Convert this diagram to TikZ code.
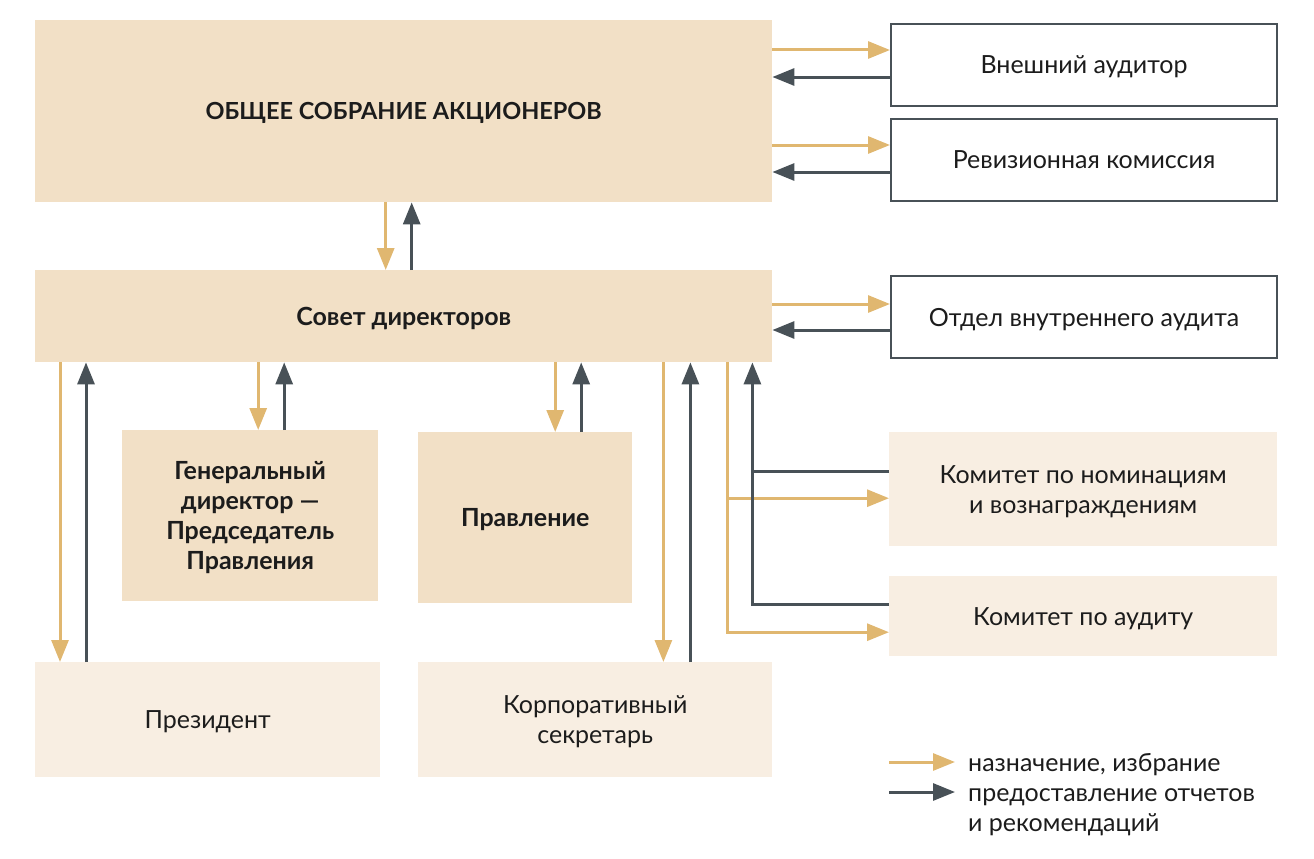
\documentclass[tikz,border=0pt]{standalone}
\usepackage{fontspec}
\setmainfont{Lato}
\usetikzlibrary{arrows.meta, positioning}
\definecolor{gold}{HTML}{E0B770}
\definecolor{slate}{HTML}{485157}
\definecolor{sand}{HTML}{F2E0C6}
\definecolor{cream}{HTML}{F8EEE2}
\definecolor{ink}{HTML}{1C1C1C}

\begin{document}
\begin{tikzpicture}[
x=1pt, y=-1pt,
box/.style={rectangle, anchor=north west, inner sep=0pt, align=center, text depth=0pt, text=ink, font=\fontsize{25}{30}\selectfont},
main/.style={box, fill=sand, font=\fontsize{25}{30}\selectfont\bfseries},
side/.style={box, fill=white, draw=slate, line width=2pt},
cmte/.style={box, fill=cream},
legend/.style={inner sep=0pt, align=left, text=ink, font=\fontsize{25}{30}\selectfont},
apt/.style={-{Triangle[length=22pt, width=17pt]}, draw=gold, line width=3pt},
rep/.style={-{Triangle[length=22pt, width=17pt]}, draw=slate, line width=3pt},
repline/.style={draw=slate, line width=3pt}
]
\useasboundingbox (0,0) rectangle (1314,859);

% boxes
\node[main, minimum width=737, minimum height=182, font=\fontsize{23.5}{30}\selectfont\bfseries] (osa) at (35,20) {ОБЩЕЕ СОБРАНИЕ АКЦИОНЕРОВ};
\node[side, minimum width=386, minimum height=82] (ext) at (890,23) {Внешний аудитор};
\node[side, minimum width=386, minimum height=82] (rev) at (890,118) {Ревизионная комиссия};
\node[main, minimum width=737, minimum height=92] (sovet) at (35,270) {Совет директоров};
\node[side, minimum width=386, minimum height=82] (ia) at (890,275) {Отдел внутреннего аудита};
\node[main, minimum width=256, minimum height=171] (gen) at (122,430) {Генеральный\\директор —\\Председатель\\Правления};
\node[main, minimum width=214, minimum height=171] (board) at (418,432) {Правление};
\node[cmte, minimum width=345, minimum height=115] (pres) at (35,662) {Президент};
\node[cmte, minimum width=354, minimum height=115] (sec) at (418,662) {Корпоративный\\секретарь};
\node[cmte, minimum width=388, minimum height=114] (nomk) at (889,432) {Комитет по номинациям\\и вознаграждениям};
\node[cmte, minimum width=388, minimum height=80] (audk) at (889,576) {Комитет по аудиту};

% shareholders and auditors
\draw[apt] ([yshift=15pt]ext.west -| osa.east) -- ([yshift=15pt]ext.west);
\draw[rep] ([yshift=-12pt]ext.west) -- ([yshift=-12pt]ext.west -| osa.east);
\draw[apt] ([yshift=15pt]rev.west -| osa.east) -- ([yshift=15pt]rev.west);
\draw[rep] ([yshift=-12pt]rev.west) -- ([yshift=-12pt]rev.west -| osa.east);
\draw[apt] ([xshift=-18pt]osa.south) -- ([xshift=-18pt]sovet.north);
\draw[rep] ([xshift=8pt]sovet.north) -- ([xshift=8pt]osa.south);
\draw[apt] ([yshift=13pt]ia.west -| sovet.east) -- ([yshift=13pt]ia.west);
\draw[rep] ([yshift=-13pt]ia.west) -- ([yshift=-13pt]ia.west -| sovet.east);

% board and executives
\draw[apt] ([xshift=8pt]gen.north |- sovet.south) -- ([xshift=8pt]gen.north);
\draw[rep] ([xshift=34pt]gen.north) -- ([xshift=34pt]gen.north |- sovet.south);
\draw[apt] ([xshift=30pt]board.north |- sovet.south) -- ([xshift=30pt]board.north);
\draw[rep] ([xshift=56pt]board.north) -- ([xshift=56pt]board.north |- sovet.south);
\draw[apt] ([xshift=25pt]pres.north west |- sovet.south) -- ([xshift=25pt]pres.north west);
\draw[rep] ([xshift=51pt]pres.north west) -- ([xshift=51pt]pres.north west |- sovet.south);
\draw[apt] ([xshift=-109pt]sec.north east |- sovet.south) -- ([xshift=-109pt]sec.north east);
\draw[rep] ([xshift=-82pt]sec.north east) -- ([xshift=-82pt]sec.north east |- sovet.south);

% committees
\coordinate (gtrunk) at ([xshift=-45pt]sovet.south east);
\coordinate (strunk) at ([xshift=-20pt]sovet.south east);
\coordinate (nomin) at ([yshift=-9pt]nomk.west);
\coordinate (nomout) at ([yshift=18pt]nomk.west);
\coordinate (audin) at ([yshift=-16pt]audk.west);
\coordinate (audout) at ([yshift=12pt]audk.west);
\draw[apt] (gtrunk) |- (audin);
\draw[apt] (gtrunk |- nomin) -- (nomin);
\draw[rep] (audout) -| (strunk);
\draw[repline] (nomout) -- (strunk |- nomout);

% legend
\node[legend, anchor=west] (lgapt) at (968,765) {назначение, избрание};
\node[legend, anchor=west] (lgrep) at (968,812) {предоставление отчетов\\и рекомендаций};
\draw[apt] ([xshift=-79pt, yshift=3pt]lgapt.west) -- ([xshift=-13pt, yshift=3pt]lgapt.west);
\draw[rep] ([xshift=-79pt, yshift=20pt]lgrep.west) -- ([xshift=-13pt, yshift=20pt]lgrep.west);
\end{tikzpicture}
\end{document}
